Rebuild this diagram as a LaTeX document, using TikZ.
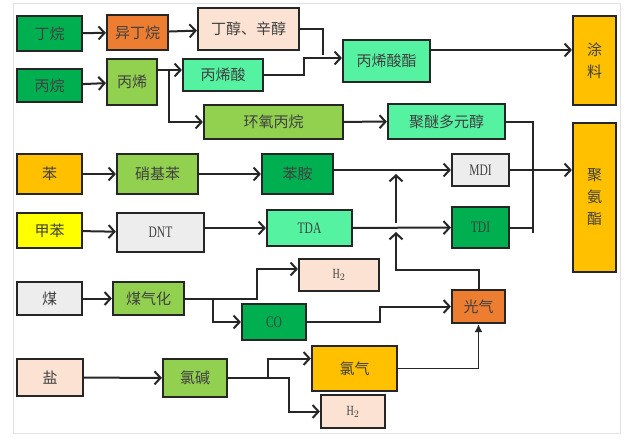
\documentclass[tikz,border=0pt]{standalone}
\usepackage{fontspec}
\setmainfont{Liberation Serif}
\newfontfamily\cjk{Noto Sans CJK SC}
\newfontfamily\latn[FakeStretch=0.72]{Liberation Serif}
\usetikzlibrary{arrows.meta,positioning}

\definecolor{darkgreen}{HTML}{00B050}
\definecolor{leafgreen}{HTML}{92D050}
\definecolor{mintgreen}{HTML}{55F2A2}
\definecolor{orangebox}{HTML}{ED7D31}
\definecolor{peachbox}{HTML}{FBE2D2}
\definecolor{amberbox}{HTML}{FFC000}
\definecolor{yellowbox}{HTML}{FFFF00}
\definecolor{greybox}{HTML}{EDEDED}

\begin{document}
\begin{tikzpicture}[
    x=1pt, y=-1pt,
    box/.style={
        rectangle,
        draw=black!85,
        line width=2.2pt,
        align=center,
        inner sep=1pt,
        text=black!75,
        font=\cjk\fontsize{15}{17}\selectfont
    },
    latin/.style={font=\latn\fontsize{16}{18}\selectfont},
    small/.style={font=\latn\fontsize{14}{16}\selectfont},
    tall/.style={font=\cjk\fontsize{15}{22}\selectfont},
    arrow/.style={
        -{Straight Barb[length=6pt,width=13pt]},
        line width=2pt,
        draw=black!85
    },
    line/.style={line width=2pt, draw=black!85},
    headfill/.style={
        -{Latex[length=8pt,width=8pt]},
        line width=1.5pt,
        draw=black!85
    }
]
    \useasboundingbox (0,0) rectangle (634,440);
    \draw[black!12, line width=1pt] (13,3) rectangle (620,433);

    % Nodes
    \node (dingwan)   [box, fill=darkgreen, minimum width=65pt, minimum height=35pt]  at (49.5,33.5)  {丁烷};
    \node (yidingwan) [box, fill=orangebox, minimum width=61pt, minimum height=35pt]  at (137.5,32.5) {异丁烷};
    \node (dingchun)  [box, fill=peachbox, minimum width=101pt, minimum height=42pt]  at (248.5,29)   {丁醇、辛醇};

    \node (bingwan)    [box, fill=darkgreen, minimum width=65pt, minimum height=33pt]  at (49.5,85.5)  {丙烷};
    \node (bingxi)     [box, fill=leafgreen, minimum width=50pt, minimum height=46pt]  at (132,82)     {丙烯};
    \node (bingxisuan) [box, fill=mintgreen, minimum width=80pt, minimum height=32pt]  at (223,75)     {丙烯酸};
    \node (huanyang)   [box, fill=leafgreen, minimum width=139pt, minimum height=34pt] at (273.5,122)  {环氧丙烷};
    \node (suanzhi)    [box, fill=mintgreen, minimum width=87pt, minimum height=42pt]  at (386.5,61)   {丙烯酸酯};
    \node (jumi)       [box, fill=mintgreen, minimum width=117pt, minimum height=35pt] at (446.5,121.5) {聚醚多元醇};

    \node (tuliao)  [box, tall, fill=amberbox, minimum width=43pt, minimum height=89pt]  at (594.5,60.5)  {涂\\料};
    \node (juanzhi) [box, tall, fill=amberbox, minimum width=43pt, minimum height=149pt] at (594.5,197.5) {聚\\氨\\酯};

    \node (ben)      [box, fill=amberbox, minimum width=65pt, minimum height=40pt]  at (49.5,174)  {苯};
    \node (xiaoji)   [box, fill=leafgreen, minimum width=81pt, minimum height=40pt] at (157.5,174) {硝基苯};
    \node (benan)    [box, fill=darkgreen, minimum width=71pt, minimum height=40pt] at (297.5,174) {苯胺};
    \node (MDI)      [box, latin, fill=greybox, minimum width=57pt, minimum height=32pt] at (480.5,170) {MDI};

    \node (jiaben) [box, fill=yellowbox, minimum width=65pt, minimum height=35pt]       at (49.5,230.5)  {甲苯};
    \node (DNT)    [box, latin, fill=greybox, minimum width=87pt, minimum height=39pt]   at (160.5,232.5) {DNT};
    \node (TDA)    [box, latin, fill=mintgreen, minimum width=85pt, minimum height=36pt] at (309.5,228)   {TDA};
    \node (TDI)    [box, latin, fill=darkgreen, minimum width=57pt, minimum height=41pt] at (480.5,227.5) {TDI};

    \node (mei)      [box, fill=greybox, minimum width=65pt, minimum height=33pt]          at (49.5,298.5)  {煤};
    \node (meiqihua) [box, fill=leafgreen, minimum width=71pt, minimum height=33pt]        at (148.5,298.5) {煤气化};
    \node (qingA)    [box, small, fill=peachbox, minimum width=80pt, minimum height=32pt]  at (339,275)     {H$_2$};
    \node (CO)       [box, latin, fill=darkgreen, minimum width=64pt, minimum height=36pt] at (274,322)     {CO};
    \node (guangqi)  [box, fill=orangebox, minimum width=53pt, minimum height=33pt]        at (478.5,306.5) {光气};

    \node (yan)    [box, fill=peachbox, minimum width=66pt, minimum height=37pt]         at (50,377.5)   {盐};
    \node (lujian) [box, fill=leafgreen, minimum width=64pt, minimum height=38pt]        at (195,378)    {氯碱};
    \node (luqi)   [box, fill=amberbox, minimum width=85pt, minimum height=45pt]         at (354.5,368.5) {氯气};
    \node (qingB)  [box, small, fill=peachbox, minimum width=64pt, minimum height=33pt]  at (353,411.5)  {H$_2$};

    % Junction points
    \coordinate (bus)    at (533,233);
    \coordinate (upfoot) at (396,223);
    \coordinate (uphead) at (396,174);
    \coordinate (phos)   at (396,232);

    % Arrows
    \draw [arrow] (dingwan)   -- (yidingwan);
    \draw [arrow] (yidingwan) -- (dingchun);
    \draw [line]  (dingchun.east) -- ++(23,0) -- ++(0,26);
    \draw [arrow] (bingxisuan.east) -- ++(40,0) |- ([yshift=3pt]suanzhi.west);
    \draw [arrow] (bingwan) -- (bingxi);
    \draw [arrow] ([yshift=12pt]bingxi.east) -- ([yshift=12pt]bingxi.east -| bingxisuan.west);
    \draw [arrow] ([xshift=11pt,yshift=12pt]bingxi.east) |- (huanyang.west);
    \draw [arrow] ([yshift=11pt]suanzhi.east) -- ([yshift=11pt]suanzhi.east -| tuliao.west);
    \draw [arrow] (huanyang) -- (jumi);

    \draw [line]  (jumi.east) -| (bus);
    \draw [line]  (TDI.east) -- (TDI.east -| bus);
    \draw [arrow] (MDI.east) -- (MDI.east -| juanzhi.west);

    \draw [arrow] (ben)    -- (xiaoji);
    \draw [arrow] (xiaoji) -- (benan);
    \draw [arrow] (benan.east |- MDI.west) -- (MDI.west);
    \draw [arrow] (jiaben) -- (DNT);
    \draw [arrow] (DNT.east |- TDA.west) -- (TDA.west);
    \draw [arrow] (TDA) -- (TDI);
    \draw [arrow] (upfoot) -- (uphead);
    \draw [arrow] (guangqi.north) -- ++(0,-19) -| (phos);

    \draw [arrow] (mei) -- (meiqihua);
    \draw [line]  (meiqihua.east) -- ++(28,0) coordinate (gasfork);
    \draw [arrow] (gasfork) -- ++(44,0) |- ([yshift=6pt]qingA.west);
    \draw [arrow] (gasfork) |- (CO.west);
    \draw [arrow] (CO.east) -- ++(73,0) |- (guangqi.west);

    \draw [arrow] (yan) -- (lujian);
    \draw [line]  (lujian.east) -- ++(40,0) coordinate (clfork);
    \draw [arrow] (clfork) |- ([yshift=10pt]luqi.west);
    \draw [arrow] (clfork) -- ++(21,0) |- (qingB.west);
    \draw [headfill] (luqi.east) -| (guangqi.south);

\end{tikzpicture}
\end{document}
